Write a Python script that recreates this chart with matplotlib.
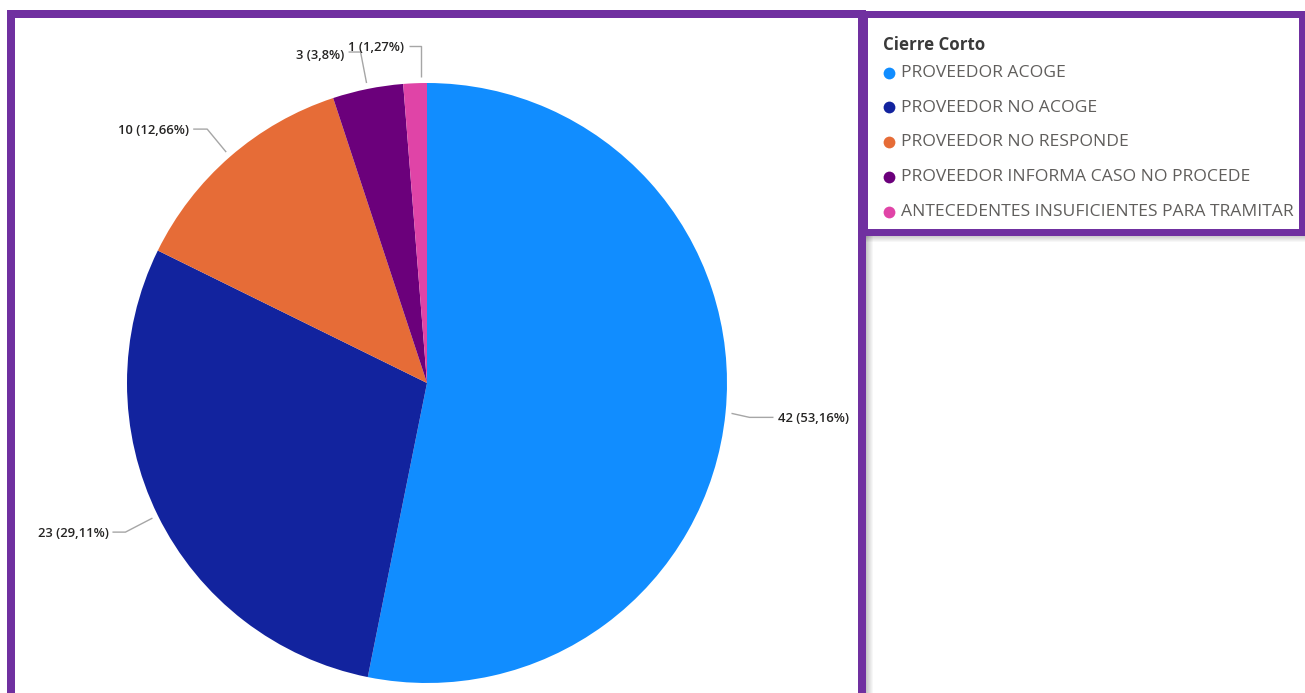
import matplotlib
matplotlib.use('Agg')
import matplotlib.pyplot as plt
from matplotlib.patches import Rectangle
import numpy as np

# ---- data ----
categories = ["PROVEEDOR ACOGE", "PROVEEDOR NO ACOGE", "PROVEEDOR NO RESPONDE",
              "PROVEEDOR INFORMA CASO NO PROCEDE", "ANTECEDENTES INSUFICIENTES PARA TRAMITAR"]
values = [42, 23, 10, 3, 1]
colors = ["#118DFF", "#12239E", "#E66C37", "#6B007B", "#E044A7"]
legend_title = "Cierre Corto"

# ---- layout ----
W, H = 1305, 693
PURPLE = "#7030A0"
fig = plt.figure(figsize=(W / 100, H / 100), dpi=100)
ax = fig.add_axes([0, 0, 1, 1])


def Y(y):
    return H - y


cx, cy, R = 427, 383, 300
wedges, _ = ax.pie(values, colors=colors, startangle=90, counterclock=False,
                   radius=R, center=(cx, Y(cy)), wedgeprops=dict(linewidth=0))
ax.set_xlim(0, W)
ax.set_ylim(0, H)
ax.set_aspect('auto')
ax.axis('off')

total = sum(values)


def fmt(v):
    s = f"{v / total * 100:.2f}".rstrip('0').rstrip('.')
    return f"{v} ({s.replace('.', ',')}%)"


# leader line geometry (pixels, y downwards): anchor dx, elbow dx, elbow dy, end dx, text gap, text dy
leaders = [(0, 18, 4, 42, 5, 1), (0, -27, 14, -40, 4, 1), (0, -19, -23, -33, 4, 1),
           (0, -6, -31, -18, 4, 3), (6, 0, -31, -12, 5, 1.5)]
label_font = dict(family="Open Sans", fontsize=9.4, fontweight='semibold', color="#252423")
for w, v, (adx, edx, edy, endx, gap, tdy) in zip(wedges, values, leaders):
    th = np.deg2rad((w.theta1 + w.theta2) / 2)
    ax_ = cx + 1.02 * R * np.cos(th) + adx
    ay_ = cy - 1.02 * R * np.sin(th)
    ex, ey = ax_ + edx, ay_ + edy
    fx = ax_ + endx
    ax.plot([ax_, ex, fx], [Y(ay_), Y(ey), Y(ey)], color="#A6A6A6", lw=1, solid_capstyle='butt')
    if endx > 0:
        ax.text(fx + gap, Y(ey + tdy), fmt(v), ha='left', va='center', **label_font)
    else:
        ax.text(fx - gap, Y(ey + tdy), fmt(v), ha='right', va='center', **label_font)

# ---- frames ----
# left visual frame
ax.add_patch(Rectangle((11, Y(720)), 850.5, 720 - 14, fill=False, edgecolor=PURPLE, lw=8 * 0.72,
                       joinstyle='miter', zorder=5))
# shadows
for i in range(7):
    a = 0.22 * (1 - i / 7)
    ax.add_patch(Rectangle((866 + i, Y(693)), 1, 693 - 235, facecolor='black', alpha=a, lw=0, zorder=4))
    ax.add_patch(Rectangle((866, Y(235 + i + 1)), 1305 - 866, 1, facecolor='black', alpha=a, lw=0, zorder=4))
# legend frame
ax.add_patch(Rectangle((863.5, Y(231.5)), 1301.5 - 863.5, 231.5 - 13.5, facecolor='white',
                       edgecolor=PURPLE, lw=7 * 0.72, joinstyle='miter', zorder=6))

# ---- legend ----
ax.text(883, Y(45), legend_title, ha='left', va='center', family="Open Sans",
        fontsize=12.2, fontweight='bold', color="#3A3A3A", zorder=7)
for i, (cat, col) in enumerate(zip(categories, colors)):
    yy = 73 + i * 34.75
    ax.scatter([889], [Y(yy - 0.5)], s=72, color=col, zorder=7, linewidths=0)
    ax.text(901, Y(yy), cat, ha='left', va='center', family="Open Sans",
            fontsize=12.6, color="#605E5C", zorder=7)

fig.savefig("out.png", dpi=100)
